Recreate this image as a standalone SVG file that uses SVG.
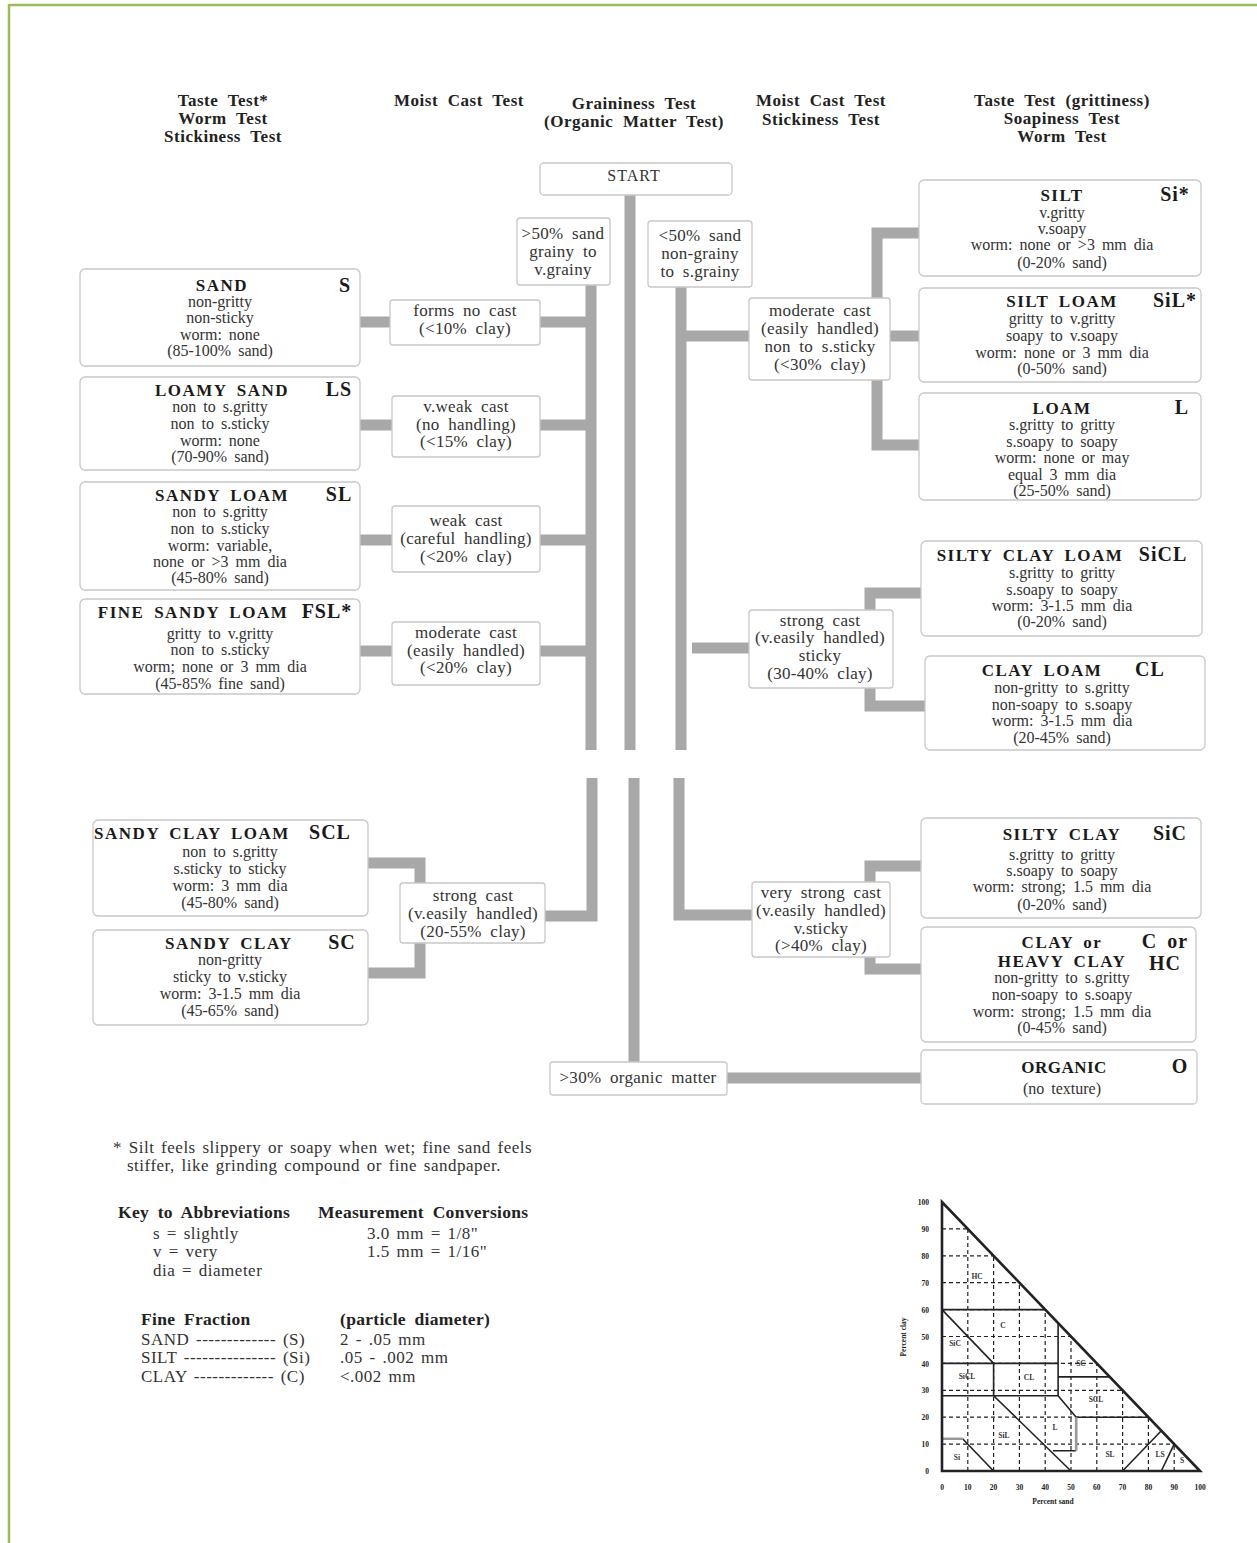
<svg xmlns="http://www.w3.org/2000/svg" width="1257" height="1543" viewBox="0 0 1257 1543">
<style>
text{font-family:"Liberation Serif","Times New Roman",serif;fill:#333}
.t{font-size:16px;word-spacing:3px;text-anchor:middle}
.c16{font-size:17px;letter-spacing:0.3px;word-spacing:4px;text-anchor:middle}
.h{font-size:17px;font-weight:bold;letter-spacing:0.5px;word-spacing:5px;text-anchor:middle;fill:#222}
.ti{font-size:17px;font-weight:bold;letter-spacing:1.5px;word-spacing:4px;text-anchor:middle;fill:#1a1a1a}
.ab{font-size:20px;font-weight:bold;letter-spacing:1px;word-spacing:4px;text-anchor:middle;fill:#1a1a1a}
.box{fill:#fff;stroke:#c8c8c8;stroke-width:1.3}
.con{fill:none;stroke:#a8a8a8;stroke-width:11;stroke-linejoin:miter}
.f{font-size:17px;letter-spacing:0.5px;word-spacing:2px;fill:#333}
.fb{font-size:17.5px;font-weight:bold;letter-spacing:0.3px;word-spacing:4px;fill:#222}
.ax{stroke:#222;stroke-width:2.6;fill:none}
.dg{stroke:#222;stroke-width:1.2;stroke-dasharray:4 3;fill:none}
.sb{stroke:#222;stroke-width:1.6;fill:none}
.gb{stroke:#999;stroke-width:2.6;fill:none}
.tl{font-size:7.5px;font-weight:bold;fill:#333}
.tk{font-size:7.5px;font-weight:bold;fill:#222}
</style>

<g id="frame">
<line x1="9" y1="5" x2="1257" y2="5" stroke="#9bbb59" stroke-width="2.5"/>
<line x1="9" y1="4" x2="9" y2="1543" stroke="#9bbb59" stroke-width="2.5"/>
</g>

<g id="headers">
<text class="h" x="223" y="106">Taste Test*</text>
<text class="h" x="223" y="124">Worm Test</text>
<text class="h" x="223" y="142">Stickiness Test</text>
<text class="h" x="459" y="106">Moist Cast Test</text>
<text class="h" x="634" y="109">Graininess Test</text>
<text class="h" x="634" y="127">(Organic Matter Test)</text>
<text class="h" x="821" y="106">Moist Cast Test</text>
<text class="h" x="821" y="125">Stickiness Test</text>
<text class="h" x="1062" y="106">Taste Test (grittiness)</text>
<text class="h" x="1062" y="124">Soapiness Test</text>
<text class="h" x="1062" y="142">Worm Test</text>
</g>

<g id="connectors">
<path class="con" d="M630 195V750"/>
<path class="con" d="M591 285V750"/>
<path class="con" d="M681 287V750"/>
<path class="con" d="M360 322H390M540 322H591"/>
<path class="con" d="M360 425H392M540 425H591"/>
<path class="con" d="M360 540H392M540 540H591"/>
<path class="con" d="M360 651H392M540 651H591"/>
<path class="con" d="M681 336H749M890 336H919"/>
<path class="con" d="M877 298V233H919"/>
<path class="con" d="M877 380V445H919"/>
<path class="con" d="M692 648H749"/>
<path class="con" d="M870 610V593H921"/>
<path class="con" d="M870 688V706H925"/>
<path class="con" d="M592 778V916H545"/>
<path class="con" d="M368 863H420V883"/>
<path class="con" d="M368 973H420V943"/>
<path class="con" d="M679 778V915H752"/>
<path class="con" d="M870 882V866H921"/>
<path class="con" d="M870 957V969H921"/>
<path class="con" d="M634 778V1062"/>
<path class="con" d="M727 1078H921"/>
</g>

<g id="start">
<rect class="box" x="540" y="163" width="192" height="32" rx="4"/>
<text class="t" x="634" y="181" style="letter-spacing:1px">START</text>
</g>

<g id="more-sand">
<rect class="box" x="517" y="218" width="93" height="67" rx="3"/>
<text class="c16" x="563" y="239">&gt;50% sand</text>
<text class="c16" x="563" y="257">grainy to</text>
<text class="c16" x="563" y="275">v.grainy</text>
</g>

<g id="less-sand">
<rect class="box" x="648" y="221" width="104" height="66" rx="3"/>
<text class="c16" x="700" y="241">&lt;50% sand</text>
<text class="c16" x="700" y="259">non-grainy</text>
<text class="c16" x="700" y="277">to s.grainy</text>
</g>

<g id="sand">
<rect class="box" x="80" y="269" width="280" height="97" rx="5"/>
<text class="ti" x="222" y="291">SAND</text>
<text class="ab" x="345" y="292">S</text>
<text class="t" x="220" y="307">non-gritty</text>
<text class="t" x="220" y="323">non-sticky</text>
<text class="t" x="220" y="340">worm: none</text>
<text class="t" x="220" y="356">(85-100% sand)</text>
</g>

<g id="cast-none">
<rect class="box" x="390" y="300" width="150" height="45" rx="3"/>
<text class="c16" x="465" y="316">forms no cast</text>
<text class="c16" x="465" y="334">(&lt;10% clay)</text>
</g>

<g id="loamy-sand">
<rect class="box" x="80" y="377" width="280" height="93" rx="5"/>
<text class="ti" x="222" y="396">LOAMY SAND</text>
<text class="ab" x="339" y="396">LS</text>
<text class="t" x="220" y="412">non to s.gritty</text>
<text class="t" x="220" y="429">non to s.sticky</text>
<text class="t" x="220" y="446">worm: none</text>
<text class="t" x="220" y="462">(70-90% sand)</text>
</g>

<g id="cast-vweak">
<rect class="box" x="392" y="396" width="148" height="61" rx="3"/>
<text class="c16" x="466" y="412">v.weak cast</text>
<text class="c16" x="466" y="430">(no handling)</text>
<text class="c16" x="466" y="447">(&lt;15% clay)</text>
</g>

<g id="sandy-loam">
<rect class="box" x="80" y="482" width="280" height="108" rx="5"/>
<text class="ti" x="222" y="501">SANDY LOAM</text>
<text class="ab" x="339" y="501">SL</text>
<text class="t" x="220" y="517">non to s.gritty</text>
<text class="t" x="220" y="534">non to s.sticky</text>
<text class="t" x="220" y="551">worm: variable,</text>
<text class="t" x="220" y="567">none or &gt;3 mm dia</text>
<text class="t" x="220" y="583">(45-80% sand)</text>
</g>

<g id="cast-weak">
<rect class="box" x="392" y="506" width="148" height="66" rx="3"/>
<text class="c16" x="466" y="526">weak cast</text>
<text class="c16" x="466" y="544">(careful handling)</text>
<text class="c16" x="466" y="562">(&lt;20% clay)</text>
</g>

<g id="fine-sandy-loam">
<rect class="box" x="80" y="599" width="280" height="95" rx="5"/>
<text class="ti" x="193" y="618">FINE SANDY LOAM</text>
<text class="ab" x="327" y="618">FSL*</text>
<text class="t" x="220" y="639">gritty to v.gritty</text>
<text class="t" x="220" y="655">non to s.sticky</text>
<text class="t" x="220" y="672">worm; none or 3 mm dia</text>
<text class="t" x="220" y="689">(45-85% fine sand)</text>
</g>

<g id="cast-moderate-left">
<rect class="box" x="392" y="622" width="148" height="63" rx="3"/>
<text class="c16" x="466" y="638">moderate cast</text>
<text class="c16" x="466" y="656">(easily handled)</text>
<text class="c16" x="466" y="673">(&lt;20% clay)</text>
</g>

<g id="silt">
<rect class="box" x="919" y="180" width="282" height="96" rx="5"/>
<text class="ti" x="1062" y="201">SILT</text>
<text class="ab" x="1175" y="201">Si*</text>
<text class="t" x="1062" y="218">v.gritty</text>
<text class="t" x="1062" y="234">v.soapy</text>
<text class="t" x="1062" y="250">worm: none or &gt;3 mm dia</text>
<text class="t" x="1062" y="268">(0-20% sand)</text>
</g>

<g id="silt-loam">
<rect class="box" x="919" y="288" width="282" height="94" rx="5"/>
<text class="ti" x="1062" y="307">SILT LOAM</text>
<text class="ab" x="1175" y="307">SiL*</text>
<text class="t" x="1062" y="324">gritty to v.gritty</text>
<text class="t" x="1062" y="341">soapy to v.soapy</text>
<text class="t" x="1062" y="358">worm: none or 3 mm dia</text>
<text class="t" x="1062" y="374">(0-50% sand)</text>
</g>

<g id="loam">
<rect class="box" x="919" y="393" width="282" height="107" rx="5"/>
<text class="ti" x="1062" y="414">LOAM</text>
<text class="ab" x="1182" y="414">L</text>
<text class="t" x="1062" y="430">s.gritty to gritty</text>
<text class="t" x="1062" y="447">s.soapy to soapy</text>
<text class="t" x="1062" y="463">worm: none or may</text>
<text class="t" x="1062" y="480">equal 3 mm dia</text>
<text class="t" x="1062" y="496">(25-50% sand)</text>
</g>

<g id="cast-moderate-right">
<rect class="box" x="749" y="298" width="141" height="82" rx="3"/>
<text class="c16" x="820" y="316">moderate cast</text>
<text class="c16" x="820" y="334">(easily handled)</text>
<text class="c16" x="820" y="352">non to s.sticky</text>
<text class="c16" x="820" y="370">(&lt;30% clay)</text>
</g>

<g id="silty-clay-loam">
<rect class="box" x="921" y="541" width="281" height="95" rx="5"/>
<text class="ti" x="1030" y="561">SILTY CLAY LOAM</text>
<text class="ab" x="1163" y="561">SiCL</text>
<text class="t" x="1062" y="578">s.gritty to gritty</text>
<text class="t" x="1062" y="595">s.soapy to soapy</text>
<text class="t" x="1062" y="611">worm: 3-1.5 mm dia</text>
<text class="t" x="1062" y="627">(0-20% sand)</text>
</g>

<g id="clay-loam">
<rect class="box" x="925" y="656" width="280" height="94" rx="5"/>
<text class="ti" x="1042" y="676">CLAY LOAM</text>
<text class="ab" x="1150" y="676">CL</text>
<text class="t" x="1062" y="693">non-gritty to s.gritty</text>
<text class="t" x="1062" y="710">non-soapy to s.soapy</text>
<text class="t" x="1062" y="726">worm: 3-1.5 mm dia</text>
<text class="t" x="1062" y="743">(20-45% sand)</text>
</g>

<g id="cast-strong-right">
<rect class="box" x="749" y="610" width="144" height="78" rx="3"/>
<text class="c16" x="820" y="626">strong cast</text>
<text class="c16" x="820" y="643">(v.easily handled)</text>
<text class="c16" x="820" y="661">sticky</text>
<text class="c16" x="820" y="679">(30-40% clay)</text>
</g>

<g id="sandy-clay-loam">
<rect class="box" x="93" y="820" width="275" height="96" rx="5"/>
<text class="ti" x="192" y="839">SANDY CLAY LOAM</text>
<text class="ab" x="330" y="839">SCL</text>
<text class="t" x="230" y="857">non to s.gritty</text>
<text class="t" x="230" y="874">s.sticky to sticky</text>
<text class="t" x="230" y="891">worm: 3 mm dia</text>
<text class="t" x="230" y="908">(45-80% sand)</text>
</g>

<g id="sandy-clay">
<rect class="box" x="93" y="930" width="275" height="95" rx="5"/>
<text class="ti" x="229" y="949">SANDY CLAY</text>
<text class="ab" x="342" y="949">SC</text>
<text class="t" x="230" y="965">non-gritty</text>
<text class="t" x="230" y="982">sticky to v.sticky</text>
<text class="t" x="230" y="999">worm: 3-1.5 mm dia</text>
<text class="t" x="230" y="1016">(45-65% sand)</text>
</g>

<g id="cast-strong-left">
<rect class="box" x="400" y="883" width="145" height="60" rx="3"/>
<text class="c16" x="473" y="901">strong cast</text>
<text class="c16" x="473" y="919">(v.easily handled)</text>
<text class="c16" x="473" y="937">(20-55% clay)</text>
</g>

<g id="cast-very-strong">
<rect class="box" x="752" y="882" width="138" height="75" rx="3"/>
<text class="c16" x="821" y="898">very strong cast</text>
<text class="c16" x="821" y="916">(v.easily handled)</text>
<text class="c16" x="821" y="934">v.sticky</text>
<text class="c16" x="821" y="951">(&gt;40% clay)</text>
</g>

<g id="silty-clay">
<rect class="box" x="921" y="818" width="280" height="100" rx="5"/>
<text class="ti" x="1062" y="840">SILTY CLAY</text>
<text class="ab" x="1170" y="840">SiC</text>
<text class="t" x="1062" y="860">s.gritty to gritty</text>
<text class="t" x="1062" y="876">s.soapy to soapy</text>
<text class="t" x="1062" y="892">worm: strong; 1.5 mm dia</text>
<text class="t" x="1062" y="910">(0-20% sand)</text>
</g>

<g id="clay">
<rect class="box" x="921" y="927" width="275" height="115" rx="5"/>
<text class="ti" x="1062" y="948">CLAY or</text>
<text class="ti" x="1062" y="967">HEAVY CLAY</text>
<text class="ab" x="1165" y="948">C or</text>
<text class="ab" x="1165" y="970">HC</text>
<text class="t" x="1062" y="983">non-gritty to s.gritty</text>
<text class="t" x="1062" y="1000">non-soapy to s.soapy</text>
<text class="t" x="1062" y="1017">worm: strong; 1.5 mm dia</text>
<text class="t" x="1062" y="1033">(0-45% sand)</text>
</g>

<g id="organic-test">
<rect class="box" x="550" y="1062" width="177" height="33" rx="3"/>
<text class="c16" x="638" y="1083">&gt;30% organic matter</text>
</g>

<g id="organic">
<rect class="box" x="921" y="1050" width="276" height="54" rx="4"/>
<text class="ti" x="1064" y="1073" style="letter-spacing:0.5px">ORGANIC</text>
<text class="ab" x="1180" y="1073">O</text>
<text class="t" x="1062" y="1094">(no texture)</text>
</g>

<g id="notes">
<text class="f" x="113" y="1153">* Silt feels slippery or soapy when wet; fine sand feels</text>
<text class="f" x="127" y="1171">stiffer, like grinding compound or fine sandpaper.</text>
<text class="fb" x="118" y="1218">Key to Abbreviations</text>
<text class="fb" x="318" y="1218">Measurement Conversions</text>
<text class="f" x="153" y="1239">s = slightly</text>
<text class="f" x="153" y="1257">v = very</text>
<text class="f" x="153" y="1276">dia = diameter</text>
<text class="f" x="367" y="1239">3.0 mm = 1/8"</text>
<text class="f" x="367" y="1257">1.5 mm = 1/16"</text>
<text class="fb" x="141" y="1325">Fine Fraction</text>
<text class="fb" x="340" y="1325">(particle diameter)</text>
<text class="f" x="141" y="1345">SAND ------------- (S)</text>
<text class="f" x="141" y="1363">SILT --------------- (Si)</text>
<text class="f" x="141" y="1382">CLAY ------------- (C)</text>
<text class="f" x="340" y="1345">2 - .05 mm</text>
<text class="f" x="340" y="1363">.05 - .002 mm</text>
<text class="f" x="340" y="1382">&lt;.002 mm</text>
</g>

<g id="texture-triangle">
<path class="dg" d="M967.8 1471V1228.9M993.6 1471V1255.8M1019.4 1471V1282.7M1045.2 1471V1309.6M1071 1471V1336.5M1096.8 1471V1363.4M1122.6 1471V1390.3M1148.4 1471V1417.2M1174.2 1471V1444.1"/>
<path class="dg" d="M942 1444.1H1174.2M942 1417.2H1148.4M942 1390.3H1122.6M942 1363.4H1096.8M942 1336.5H1071M942 1309.6H1045.2M942 1282.7H1019.4M942 1255.8H993.6M942 1228.9H967.8"/>
<path class="sb" d="M942 1309.6H1045.2M1058.1 1323V1395.7M942 1309.6L993.6 1363.4M942 1363.4H1058.1M993.6 1363.4V1395.7M942 1395.7H1058.1M1058.1 1376.9H1109.7M1058.1 1395.7L1076.2 1417.2M1052.9 1450.8H1076.2M1076.2 1417.2H1148.4M993.6 1395.7L1071 1471M962.6 1438.7L993.6 1471M1122.6 1471L1161.3 1430.7M1161.3 1471L1174.2 1444.1"/>
<path class="gb" d="M1076.2 1417.2V1450.8M942 1438.7H962.6"/>
<path class="ax" d="M942 1202V1471H1200Z"/>
<text class="tl" x="977" y="1279" text-anchor="middle">HC</text>
<text class="tl" x="1003" y="1328" text-anchor="middle">C</text>
<text class="tl" x="955" y="1346" text-anchor="middle">SiC</text>
<text class="tl" x="1081" y="1366" text-anchor="middle">SC</text>
<text class="tl" x="967" y="1379" text-anchor="middle">SiCL</text>
<text class="tl" x="1029" y="1380" text-anchor="middle">CL</text>
<text class="tl" x="1096" y="1402" text-anchor="middle">SCL</text>
<text class="tl" x="1055" y="1430" text-anchor="middle">L</text>
<text class="tl" x="1004" y="1438" text-anchor="middle">SiL</text>
<text class="tl" x="957" y="1460" text-anchor="middle">Si</text>
<text class="tl" x="1110" y="1457" text-anchor="middle">SL</text>
<text class="tl" x="1160" y="1457" text-anchor="middle">LS</text>
<text class="tl" x="1182" y="1463" text-anchor="middle">S</text>
<text class="tk" x="929" y="1205" text-anchor="end">100</text>
<text class="tk" x="929" y="1232" text-anchor="end">90</text>
<text class="tk" x="929" y="1259" text-anchor="end">80</text>
<text class="tk" x="929" y="1286" text-anchor="end">70</text>
<text class="tk" x="929" y="1313" text-anchor="end">60</text>
<text class="tk" x="929" y="1340" text-anchor="end">50</text>
<text class="tk" x="929" y="1367" text-anchor="end">40</text>
<text class="tk" x="929" y="1393" text-anchor="end">30</text>
<text class="tk" x="929" y="1420" text-anchor="end">20</text>
<text class="tk" x="929" y="1447" text-anchor="end">10</text>
<text class="tk" x="929" y="1474" text-anchor="end">0</text>
<text class="tk" x="942" y="1490" text-anchor="middle">0</text>
<text class="tk" x="967.8" y="1490" text-anchor="middle">10</text>
<text class="tk" x="993.6" y="1490" text-anchor="middle">20</text>
<text class="tk" x="1019.4" y="1490" text-anchor="middle">30</text>
<text class="tk" x="1045.2" y="1490" text-anchor="middle">40</text>
<text class="tk" x="1071" y="1490" text-anchor="middle">50</text>
<text class="tk" x="1096.8" y="1490" text-anchor="middle">60</text>
<text class="tk" x="1122.6" y="1490" text-anchor="middle">70</text>
<text class="tk" x="1148.4" y="1490" text-anchor="middle">80</text>
<text class="tk" x="1174.2" y="1490" text-anchor="middle">90</text>
<text class="tk" x="1200" y="1490" text-anchor="middle">100</text>
<text class="tk" x="1053" y="1504" text-anchor="middle">Percent sand</text>
<text class="tk" x="0" y="0" text-anchor="middle" transform="translate(906 1337) rotate(-90)">Percent clay</text>
</g>
</svg>
